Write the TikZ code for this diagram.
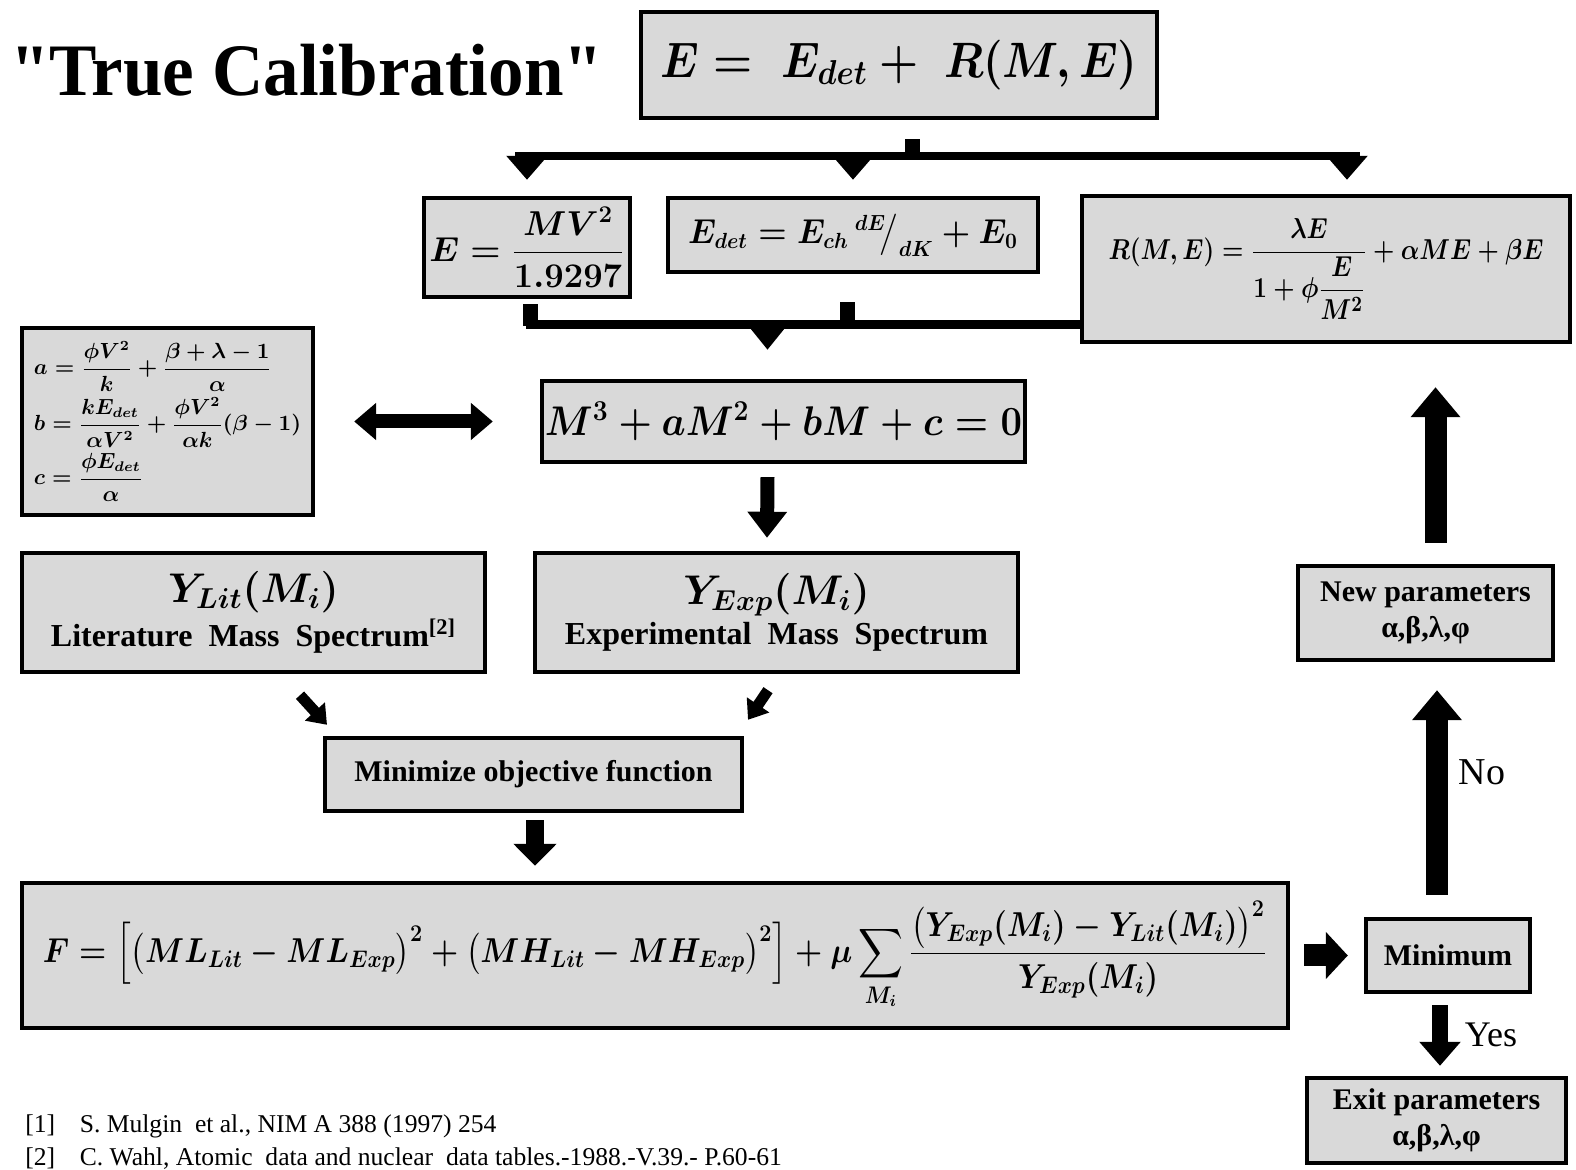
\documentclass[tikz,border=0pt]{standalone}
\usepackage{amsmath}
\usepackage{fontspec}
\setmainfont{Liberation Serif}
\newfontfamily\qfont{Liberation Serif}
\usetikzlibrary{arrows.meta,calc}
\definecolor{boxgray}{HTML}{D9D9D9}
\tikzset{
  box/.style={draw=black, line width=2.2pt, fill=boxgray, inner sep=0pt, align=center},
  mathbox/.style={box, font=\boldmath\fontsize{#1}{#1}\selectfont},
  txtbox/.style={box, font=\bfseries\fontsize{#1}{18pt}\selectfont},
  blkarrow/.style n args={3}{line width=#1, line cap=butt, -{Triangle[width=#2,length=#3]}},
  dblarrow/.style n args={3}{line width=#1, line cap=butt, {Triangle[width=#2,length=#3]}-{Triangle[width=#2,length=#3]}},
  barline/.style={line width=#1, line cap=butt},
}
\begin{document}
\begin{tikzpicture}[x=0.5pt,y=-0.5pt]
\useasboundingbox (0,0) rectangle (1576,1170);

% title
\node[anchor=west, inner sep=0pt, font=\qfont\bfseries\fontsize{37pt}{40pt}\selectfont] (title) at (10,70)
  {\scalebox{0.96}[1]{"True Calibration"}};

% boxes
\node[mathbox=26pt, minimum width=258pt, minimum height=53pt] (top) at (899,65)
  {\scalebox{0.9}[1]{$E = \; E_{det} + \; R(M,E)$}};
\node[mathbox=18pt, minimum width=103pt, minimum height=49.5pt] (boxA) at (527,247.5)
  {$E = \dfrac{MV^2}{1.9297}$};
\node[mathbox=16pt, minimum width=185pt, minimum height=37pt] (boxB) at (853,235)
  {\scalebox{0.94}[1]{$E_{det} = E_{ch}\,{}^{dE}\!\big/_{dK} + E_0$}};
\node[mathbox=15pt, minimum width=244pt, minimum height=73pt] (boxC) at (1326,269)
  {\scalebox{0.85}[1]{$R(M,E) = \dfrac{\lambda E}{1+\phi\dfrac{E}{M^2}} + \alpha M E + \beta E$}};
\node[mathbox=20pt, minimum width=241.5pt, minimum height=40.5pt] (cubic) at (783.5,421.5)
  {\scalebox{0.92}[1]{$M^3 + aM^2 + bM + c = 0$}};
\node[box, font=\boldmath\fontsize{10.5pt}{10.5pt}\selectfont, align=left, minimum width=145.5pt, minimum height=93.5pt] (abc) at (167.5,421.5)
  {\lineskip=1pt $a = \dfrac{\phi V^2}{k} + \dfrac{\beta+\lambda-1}{\alpha}$\\[2pt]
   $b = \dfrac{kE_{det}}{\alpha V^2} + \dfrac{\phi V^2}{\alpha k}(\beta-1)$\\[2pt]
   $c = \dfrac{\phi E_{det}}{\alpha}$};
\node[box, font=\boldmath, minimum width=231.5pt, minimum height=59.5pt] (ylit) at (253.5,612.5)
  {{\fontsize{21pt}{24pt}\selectfont $Y_{Lit}(M_i)$}\\[2pt]
   {\bfseries\fontsize{16pt}{18pt}\selectfont Literature\ \ Mass\ \ Spectrum\textsuperscript{[2]}}};
\node[box, font=\boldmath, minimum width=241.5pt, minimum height=59.5pt] (yexp) at (776.5,612.5)
  {{\fontsize{21pt}{24pt}\selectfont $Y_{Exp}(M_i)$}\\[2pt]
   {\bfseries\fontsize{16pt}{18pt}\selectfont Experimental\ \ Mass\ \ Spectrum}};
\node[txtbox=15pt, minimum width=208.5pt, minimum height=36.5pt] (mini) at (533.5,774.5)
  {Minimize objective function};
\node[mathbox=16.5pt, minimum width=633pt, minimum height=72.5pt] (F) at (655,955.5)
  {\scalebox{0.9}[1]{$\displaystyle F = \Big[\big(ML_{Lit} - ML_{Exp}\big)^2 + \big(MH_{Lit} - MH_{Exp}\big)^2\Big] + \mu \sum_{M_i} \frac{\big(Y_{Exp}(M_i) - Y_{Lit}(M_i)\big)^2}{Y_{Exp}(M_i)}$}};
\node[txtbox=15pt, minimum width=82pt, minimum height=36.5pt] (minimum) at (1448,955.5)
  {Minimum};
\node[txtbox=15pt, minimum width=127.5pt, minimum height=47pt] (newp) at (1425.5,613)
  {New parameters\\α,β,λ,φ};
\node[txtbox=15pt, minimum width=129.5pt, minimum height=42.5pt] (exitp) at (1436.5,1120.5)
  {Exit parameters\\α,β,λ,φ};

% labels
\node[font=\fontsize{19pt}{22pt}\selectfont, inner sep=0pt] (nolbl) at (1482,772) {No};
\node[font=\fontsize{18pt}{21pt}\selectfont, inner sep=0pt] (yeslbl) at (1491,1035) {Yes};

% references
\node[anchor=west, inner sep=0pt, align=left, font=\fontsize{12.8pt}{16.5pt}\selectfont] (refs) at (25,1142)
  {\makebox[24pt][l]{[1]} S. Mulgin\ \ et al., NIM A 388 (1997) 254\\
   \makebox[24pt][l]{[2]} C. Wahl, Atomic\ \ data and nuclear\ \ data tables.-1988.-V.39.- P.60-61};

% top distribution
\coordinate (split) at ($(top.south)+(13,36)$);
\draw[barline=7.5pt] ($(top.south)+(13,19)$) -- ($(split)+(0,2)$);
\draw[barline=4pt] ($(split -| boxA.north)+(-12,0)$) -- ($(split -| boxC.north)+(34,0)$);
\draw[blkarrow={6pt}{20pt}{12pt}] (split -| boxA.north) -- ($(boxA.north)+(0,-16)$);
\draw[blkarrow={6pt}{20pt}{12pt}] (split -| boxB.north) -- ($(boxB.north)+(0,-16)$);
\draw[blkarrow={6pt}{20pt}{12pt}] ($(split -| boxC.north)+(21,0)$) -- ($(boxC.north)+(21,-14)$);

% collector
\coordinate (join) at ($(boxA.south)+(3,25)$);
\draw[barline=7.5pt] ($(boxA.south)+(3,5)$) -- ($(join)+(0,2)$);
\draw[barline=7.5pt] ($(boxB.south)+(-6,28)$) -- ($(join -| boxB.south)+(-6,2)$);
\draw[barline=4.5pt] ($(join)+(-3.75,0)$) -- (join -| boxC.west);
\draw[blkarrow={6pt}{20pt}{13pt}] ($(join -| cubic.north)+(-16,0)$) -- ($(cubic.north)+(-16,-29)$);

% double arrow
\draw[dblarrow={7pt}{18pt}{11pt}] ($(abc.east)+(39,0)$) -- ($(cubic.west)+(-47,0)$);

% cubic -> experimental
\draw[blkarrow={7pt}{19pt}{13pt}] ($(cubic.south)+(-16,13)$) -- ($(yexp.north)+(-9.5,-13)$);

% spectra -> minimize
\draw[blkarrow={5.5pt}{13pt}{9pt}] ($(ylit.south)+(46.5,21)$) -- ($(mini.north)+(-206.5,-11)$);
\draw[blkarrow={5.5pt}{13pt}{9pt}] ($(yexp.south)+(-8.5,16)$) -- ($(mini.north)+(214.5,-16)$);

% minimize -> F
\draw[blkarrow={9pt}{21pt}{11pt}] ($(mini.south)+(1.5,7)$) -- ($(mini.south |- F.north)+(1.5,-15)$);

% F -> minimum
\draw[blkarrow={11pt}{23pt}{11pt}] ($(F.east)+(14,0)$) -- ($(minimum.west)+(-16,0)$);

% minimum -> exit (Yes)
\draw[blkarrow={8pt}{20pt}{12pt}] ($(minimum.south)+(-8,11)$) -- ($(minimum.south |- exitp.north)+(-8,-10)$);

% minimum -> new parameters (No)
\draw[blkarrow={11pt}{24pt}{15pt}] ($(minimum.north)+(-11,-22)$) -- ($(minimum.north |- newp.south)+(-11,28)$);

% new parameters -> R(M,E)
\draw[blkarrow={11pt}{24pt}{15pt}] ($(newp.north)+(10,-21)$) -- ($(newp.north |- boxC.south)+(10,43)$);
\end{tikzpicture}
\end{document}
